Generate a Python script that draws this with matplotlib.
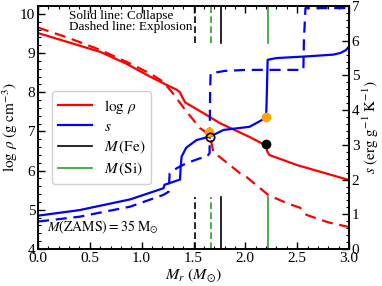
import matplotlib
matplotlib.use("Agg")
import matplotlib.pyplot as plt
from matplotlib.ticker import MultipleLocator
from matplotlib.lines import Line2D

plt.rcParams['font.family'] = ['Liberation Serif', 'DejaVu Serif']
plt.rcParams['mathtext.fontset'] = 'stix'

# log rho, collapse (solid)
rho_c_x = [0.0, 0.3, 0.6, 0.85, 1.08, 1.2, 1.34, 1.37, 1.39, 1.42, 1.6, 1.755, 2.04, 2.2, 2.21, 2.23, 2.5, 2.75, 3.0]
rho_c_y = [9.51, 9.27, 9.03, 8.73, 8.40, 8.24, 8.06, 8.0, 7.88, 7.74, 7.46, 7.21, 6.86, 6.64, 6.50, 6.40, 6.14, 5.95, 5.76]
# log rho, explosion (dashed)
rho_e_x = [0.0, 0.3, 0.6, 0.85, 1.08, 1.2, 1.29, 1.4, 1.56, 1.66, 1.69, 1.79, 1.95, 2.01, 2.22, 2.4, 2.53, 2.59, 2.8, 3.0]
rho_e_y = [9.65, 9.38, 9.08, 8.78, 8.48, 8.28, 8.01, 7.62, 7.09, 6.90, 6.48, 6.27, 5.93, 5.84, 5.38, 5.17, 5.05, 4.87, 4.68, 4.56]
# entropy, collapse (solid)
s_c_x = [0.0, 0.4, 0.89, 1.21, 1.22, 1.37, 1.375, 1.385, 1.43, 1.53, 1.66, 1.79, 2.04, 2.2, 2.205, 2.215, 2.3, 2.6, 2.85, 2.92, 2.97, 3.0]
s_c_y = [0.96, 1.12, 1.43, 1.75, 1.85, 2.0, 2.3, 2.66, 2.92, 3.14, 3.24, 3.43, 3.52, 3.78, 4.2, 5.45, 5.5, 5.55, 5.6, 5.65, 5.73, 5.83]
# entropy, explosion (dashed)
s_e_x = [0.0, 0.4, 0.89, 1.21, 1.26, 1.27, 1.34, 1.43, 1.56, 1.63, 1.655, 1.66, 1.665, 1.8, 2.01, 2.56, 2.565, 2.58, 3.0]
s_e_y = [0.79, 0.93, 1.22, 1.56, 1.65, 2.18, 2.33, 2.47, 2.61, 2.66, 2.76, 4.5, 5.06, 5.13, 5.16, 5.16, 6.0, 6.94, 6.94]

fe_collapse, si_collapse = 1.77, 2.22
fe_explosion, si_explosion = 1.51, 1.67

fig = plt.figure(figsize=(3.82, 2.86), dpi=100)
ax = fig.add_axes([0.0995, 0.1294, 0.8141, 0.8496])
ax2 = ax.twinx()

ax.plot(rho_c_x, rho_c_y, color='red', lw=1.6)
ax.plot(rho_e_x, rho_e_y, color='red', lw=1.6, ls=(0, (5, 3)))
ax2.plot(s_c_x, s_c_y, color='blue', lw=1.6)
ax2.plot(s_e_x, s_e_y, color='blue', lw=1.6, ls=(0, (5, 3)))

# markers
ax2.plot([1.65], [3.36], 'o', color='orange', ms=6, zorder=5)
ax2.plot([2.2], [3.8], 'o', color='orange', ms=6, zorder=5)
ax2.plot([1.66], [3.22], 'o', mfc='none', mec='black', ms=6, mew=1.2, zorder=6)
ax.plot([2.2], [6.67], 'o', color='black', ms=6, zorder=6)

# M(Fe), M(Si) markers (top and bottom)
ylo, yhi = 4.0, 10.2
for xv, c, ls in [(fe_explosion, 'black', (0, (4, 2))), (si_explosion, 'tab:green', (0, (4, 2))),
                  (fe_collapse, 'black', '-'), (si_collapse, 'tab:green', '-')]:
    ax.plot([xv, xv], [9.26, yhi], color=c, lw=1.2, ls=ls)
    ax.plot([xv, xv], [ylo, 5.33], color=c, lw=1.2, ls=ls)

ax.set_xlim(0, 3.0)
ax.set_ylim(ylo, yhi)
ax2.set_ylim(0, 7)

ax.xaxis.set_major_locator(MultipleLocator(0.5))
ax.xaxis.set_minor_locator(MultipleLocator(0.1))
ax.yaxis.set_major_locator(MultipleLocator(1))
ax.yaxis.set_minor_locator(MultipleLocator(0.2))
ax2.yaxis.set_major_locator(MultipleLocator(1))
ax2.yaxis.set_minor_locator(MultipleLocator(0.2))

ax.tick_params(which='both', direction='in', top=True, labelsize=11, pad=2)
ax.tick_params(which='major', length=5, width=1)
ax.tick_params(which='minor', length=2.5, width=0.8)
ax2.tick_params(which='both', direction='in', labelsize=11, pad=2)
ax2.tick_params(which='major', length=5, width=1)
ax2.tick_params(which='minor', length=2.5, width=0.8)
for sp in ax.spines.values():
    sp.set_linewidth(1.2)
for sp in ax2.spines.values():
    sp.set_linewidth(1.2)

ax.set_xlabel(r'$M_r\ (M_{\odot})$', fontsize=11.5, labelpad=1)
ax.set_ylabel(r'$\log\,\rho\ (\mathrm{g\ cm^{-3}})$', fontsize=11, labelpad=0)
ax2.set_ylabel(r'$s\ (\mathrm{erg\ g^{-1}\ K^{-1}})$', fontsize=11, labelpad=1)

ax.text(0.10, 0.985, 'Solid line: Collapse\nDashed line: Explosion', transform=ax.transAxes,
        fontsize=9.5, va='top', ha='left', linespacing=0.95)
ax.text(0.03, 0.055, r'$M(\mathrm{ZAMS}) = 35\ \mathrm{M}_{\odot}$', transform=ax.transAxes,
        fontsize=10, va='bottom', ha='left')

handles = [Line2D([], [], color='red', lw=1.6), Line2D([], [], color='blue', lw=1.6),
           Line2D([], [], color='black', lw=1.2), Line2D([], [], color='tab:green', lw=1.2)]
labels = [r'$\log\,\rho$', r'$s$', r'$M\,(\mathrm{Fe})$', r'$M\,(\mathrm{Si})$']
ax.legend(handles, labels, loc='upper left', bbox_to_anchor=(0.02, 0.68), fontsize=11,
          handlelength=2.2, labelspacing=0.3, borderpad=0.4, framealpha=0.9)

fig.savefig('out.png', dpi=100)
